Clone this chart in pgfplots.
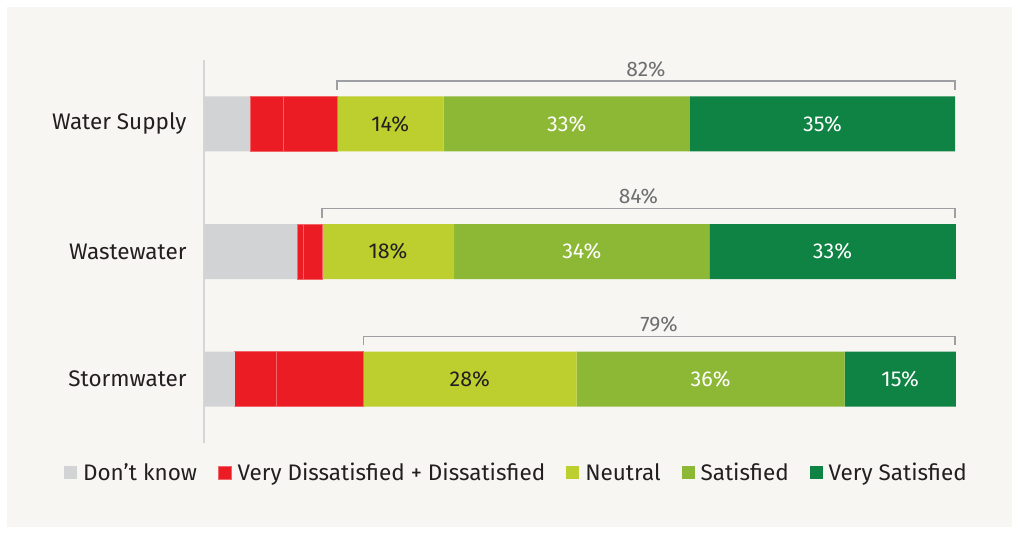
\documentclass[border=0pt]{standalone}
\usepackage{pgfplots}
\pgfplotsset{compat=1.18}
\usepackage{fontspec}
\setmainfont{Fira Sans}
\definecolor{bg}{HTML}{F7F6F2}
\definecolor{dk}{HTML}{D1D3D4}
\definecolor{vd}{HTML}{EC1C24}
\definecolor{vdline}{HTML}{F0646A}
\definecolor{neu}{HTML}{BCCF2F}
\definecolor{sat}{HTML}{8DB836}
\definecolor{vs}{HTML}{0E8343}
\definecolor{txt}{HTML}{231F20}
\definecolor{brk}{HTML}{9D9FA2}
\definecolor{brktxt}{HTML}{6D6E70}
\definecolor{axc}{HTML}{D6D6D6}
\tikzset{seglab/.style={font=\fontsize{21.5}{21.5}\selectfont},
  brkline/.style={draw=brk, line width=1.3pt},
  brklab/.style={font=\fontsize{21}{21}\selectfont, text=brktxt}}
\begin{document}
\begin{tikzpicture}[x=1pt,y=1pt]
\useasboundingbox (0,0) rectangle (1019,-533);
\fill[white] (0,0) rectangle (1019,-533);
\fill[bg] (7,-7) rectangle (1012,-527);
\begin{axis}[
  at={(204pt,-60pt)}, anchor=north west,
  scale only axis, width=751pt, height=383pt,
  xbar stacked, bar width=55pt,
  xmin=0, xmax=100, ymin=-0.5, ymax=2.5, y dir=reverse,
  axis x line=none, axis y line=left,
  y axis line style={draw=axc, line width=1.5pt, -},
  ytick={0,1,2}, yticklabels={Water Supply,Wastewater,Stormwater},
  major tick length=0pt,
  yticklabel style={font=\fontsize{22.5}{22.5}\selectfont, text=txt, xshift=-14pt},
  legend columns=5,
  legend style={at={(0.416,-0.078)}, anchor=center, draw=none, fill=none,
    font=\fontsize{22.5}{22.5}\selectfont, text=txt,
    /tikz/every even column/.append style={column sep=19pt}},
  legend image code/.code={\fill[#1] (0pt,-6.5pt) rectangle (13pt,6.5pt);},
  clip=false,
]
\addplot[fill=dk, draw=none] coordinates {(6.1,0) (12.4,1) (4.1,2)};
\addlegendentry{\hspace{4pt}Don't know}
\addplot[fill=vd, draw=vdline, line width=0.6pt] coordinates {(4.4,0) (0.8,1) (5.5,2)};
\addlegendentry{\hspace{4pt}Very Dissatisfied + Dissatisfied\hspace{10pt}}
\addplot[fill=vd, draw=vdline, line width=0.6pt, forget plot] coordinates {(7.2,0) (2.5,1) (11.6,2)};
\addplot[fill=neu, draw=none] coordinates {(14.2,0) (17.6,1) (28.4,2)};
\addlegendentry{\hspace{4pt}Neutral}
\addplot[fill=sat, draw=none] coordinates {(32.8,0) (34.0,1) (35.7,2)};
\addlegendentry{\hspace{4pt}Satisfied}
\addplot[fill=vs, draw=none] coordinates {(35.3,0) (32.8,1) (14.8,2)};
\addlegendentry{\hspace{4pt}Very Satisfied}

% label anchors
\coordinate (a1) at (axis cs:24.8,0);
\coordinate (a2) at (axis cs:48.3,0);
\coordinate (a3) at (axis cs:82.35,0);
\coordinate (b1) at (axis cs:24.5,1);
\coordinate (b2) at (axis cs:50.3,1);
\coordinate (b3) at (axis cs:83.7,1);
\coordinate (c1) at (axis cs:35.4,2);
\coordinate (c2) at (axis cs:67.45,2);
\coordinate (c3) at (axis cs:92.7,2);

% brackets
\draw[brkline] (axis cs:17.7,-0.265) -- (axis cs:17.7,-0.335) -- (axis cs:100,-0.335) -- (axis cs:100,-0.265);
\draw[brkline] (axis cs:15.7,0.735) -- (axis cs:15.7,0.665) -- (axis cs:100,0.665) -- (axis cs:100,0.735);
\draw[brkline] (axis cs:21.2,1.735) -- (axis cs:21.2,1.665) -- (axis cs:100,1.665) -- (axis cs:100,1.735);
\node[brklab] at (axis cs:58.85,-0.43) {82\%};
\node[brklab] at (axis cs:57.85,0.57) {84\%};
\node[brklab] at (axis cs:60.6,1.57) {79\%};
\end{axis}
\node[seglab, text=txt] at (a1) {14\%};
\node[seglab, text=white] at (a2) {33\%};
\node[seglab, text=white] at (a3) {35\%};
\node[seglab, text=txt] at (b1) {18\%};
\node[seglab, text=white] at (b2) {34\%};
\node[seglab, text=white] at (b3) {33\%};
\node[seglab, text=txt] at (c1) {28\%};
\node[seglab, text=white] at (c2) {36\%};
\node[seglab, text=white] at (c3) {15\%};
\end{tikzpicture}
\end{document}
